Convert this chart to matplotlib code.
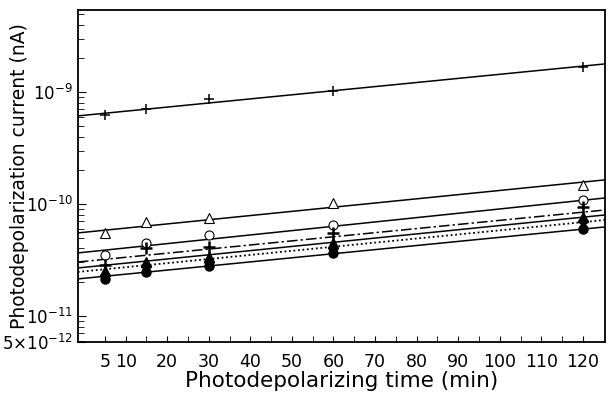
import numpy as np
import matplotlib
matplotlib.use('Agg')
import matplotlib.pyplot as plt
from matplotlib.ticker import FixedLocator, LogLocator, NullFormatter

# measurement times (min)
times = [5, 15, 30, 60, 120]

# photodepolarization current (A) for each sample
cur_plus = [6.2e-10, 7.05e-10, 8.66e-10, 1.02e-9, 1.67e-9]
cur_tri = [5.5e-11, 6.9e-11, 7.5e-11, 1.02e-10, 1.48e-10]
cur_circ = [3.5e-11, 4.5e-11, 5.3e-11, 6.5e-11, 1.09e-10]
cur_bplus = [2.85e-11, 4.05e-11, 4.13e-11, 5.5e-11, 9.4e-11]
cur_ftri = [2.52e-11, 3.03e-11, 3.36e-11, 4.49e-11, 7.66e-11]
cur_fdia = [2.32e-11, 2.79e-11, 3.03e-11, 4.05e-11, 7.05e-11]
cur_fcirc = [2.14e-11, 2.47e-11, 2.79e-11, 3.65e-11, 5.98e-11]

# fitted lines: values at both ends of the time range
fit_t = [-1.5, 125.3]
fit_plus = [6.11e-10, 1.78e-9]
fit_tri = [5.51e-11, 1.64e-10]
fit_circ = [3.65e-11, 1.13e-10]
fit_bplus = [3.03e-11, 8.83e-11]
fit_ftri = [2.68e-11, 7.97e-11]
fit_fdia = [2.47e-11, 7.19e-11]
fit_fcirc = [2.14e-11, 6.23e-11]

xticks = [5, 10, 20, 30, 40, 50, 60, 70, 80, 90, 100, 110, 120]
y_bottom = 10 ** -11.232
y_top = 5.4e-9

fig = plt.figure(figsize=(6.08, 3.98), dpi=100)
ax = fig.add_axes([0.128, 0.141, 0.867, 0.834])
ax.set_yscale('log')

lw = 1.1
ax.plot(fit_t, fit_plus, '-', color='k', lw=lw)
ax.plot(fit_t, fit_tri, '-', color='k', lw=lw)
ax.plot(fit_t, fit_circ, '-', color='k', lw=lw)
ax.plot(fit_t, fit_bplus, color='k', lw=lw, dashes=[7, 2, 1.5, 2])
ax.plot(fit_t, fit_ftri, '-', color='k', lw=lw)
ax.plot(fit_t, fit_fdia, color='k', lw=1.3, dashes=[1, 1.5])
ax.plot(fit_t, fit_fcirc, '-', color='k', lw=lw)

ax.plot(times, cur_plus, '+', color='k', ms=7, mew=1.1)
ax.plot(times, cur_tri, '^', mfc='white', mec='k', ms=6.5, mew=0.8)
ax.plot(times, cur_circ, 'o', mfc='white', mec='k', ms=6.5, mew=0.8)
ax.plot(times, cur_bplus, '+', color='k', ms=9, mew=1.8)
ax.plot(times, cur_ftri, '^', color='k', ms=6.5)
ax.plot(times, cur_fdia, 'D', color='k', ms=5.5)
ax.plot(times, cur_fcirc, 'o', color='k', ms=6.5)

ax.set_xlim(fit_t[0], fit_t[1])
ax.set_ylim(y_bottom, y_top)

ax.xaxis.set_major_locator(FixedLocator(xticks))
ax.set_xticklabels([str(v) for v in xticks])
ax.xaxis.set_minor_locator(FixedLocator(np.arange(15, 125, 10)))
ax.tick_params(axis='x', which='both', direction='in', length=4, top=False, labelsize=12.5, pad=8)

ax.yaxis.set_major_locator(FixedLocator([y_bottom, 1e-11, 1e-10, 1e-9]))
ax.set_yticklabels(['5×10$^{-12}$', '10$^{-11}$', '10$^{-10}$', '10$^{-9}$'])
ax.yaxis.set_minor_locator(LogLocator(base=10, subs=np.arange(2, 10), numticks=20))
ax.yaxis.set_minor_formatter(NullFormatter())
ax.tick_params(axis='y', which='major', direction='in', length=6, right=False, labelsize=12)
ax.tick_params(axis='y', which='minor', direction='in', length=4, right=False)

for s in ax.spines.values():
    s.set_linewidth(1.3)

ax.set_xlabel('Photodepolarizing time (min)', fontsize=15.5, labelpad=0)
ax.set_ylabel('Photodepolarization current (nA)', fontsize=13.5)
ax.yaxis.set_label_coords(-0.093, 0.5)

fig.savefig('out.png', dpi=100)
